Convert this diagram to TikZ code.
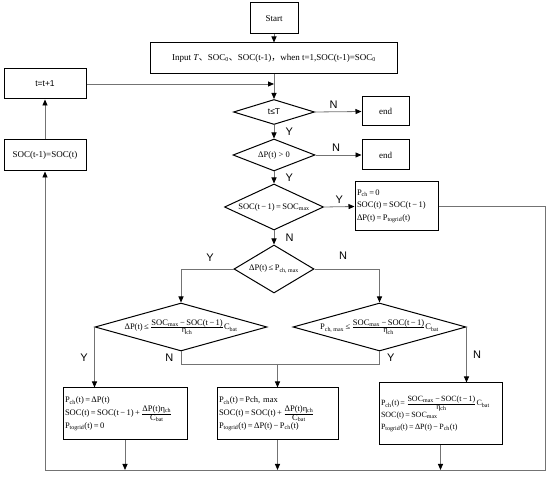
\documentclass[tikz,border=0pt]{standalone}
\usepackage{fontspec}
\setmainfont{Liberation Serif}
\newfontfamily\cjk{Noto Sans CJK SC}
\newfontfamily\arial{Liberation Sans}
\usetikzlibrary{shapes.geometric,arrows.meta}
\newcommand\sbs[1]{\textsubscript{#1}}
\newcommand\fr[2]{$\frac{\mbox{#1}}{\mbox{#2}}$}
\newcommand\mn{\,−\,}
\newcommand\eq{\,=\,}
\begin{document}
\begin{tikzpicture}[x=1pt,y=-1pt,
  font=\fontsize{9}{11}\selectfont,
  box/.style={draw=black, line width=1pt, inner sep=2pt},
  tbox/.style={box, align=left, text width=#1, font=\fontsize{8.5}{10.5}\selectfont},
  dia/.style={draw=black, diamond, line width=1pt, inner sep=0pt},
  dtext/.style={font=\fontsize{8.5}{10}\selectfont},
  conn/.style={draw=black!55, line width=0.8pt},
  arr/.style={conn, -{Triangle[width=5pt,length=6pt,color=black,fill=black]}},
  lab/.style={font=\arial\fontsize{11}{13}\selectfont, text=black}]
\useasboundingbox (0,0) rectangle (550,478);
% nodes
\node[box, minimum width=48pt, minimum height=31pt] (start) at (274,18.5) {Start};
\node[box, minimum width=247pt, minimum height=31pt] (inp) at (274,58.5)
  {Input \textit{T}{\cjk 、}SOC\sbs{0}{\cjk 、}SOC(t-1){\cjk ，}when t=1,SOC(t-1)=SOC\sbs{0}};
\node[box, minimum width=82pt, minimum height=30pt] (tt) at (45,84) {\arial\fontsize{8.5}{10}\selectfont t=t+1};
\node[box, minimum width=82pt, minimum height=31pt] (soc) at (45,155.5) {SOC(t-1)=SOC(t)};
\node[dia, minimum width=81pt, minimum height=25pt] (d1) at (274,112) {};
\node (d1t) at (d1) {\arial\fontsize{8.5}{10}\selectfont t≤T};
\node[box, minimum width=47pt, minimum height=29pt] (e1) at (385.5,111.5) {end};
\node[dia, minimum width=82pt, minimum height=32pt] (d2) at (274,155) {};
\node[dtext] (d2t) at (d2) {ΔP(t) > 0};
\node[box, minimum width=47pt, minimum height=30pt] (e2) at (385.5,155) {end};
\node[dia, minimum width=99pt, minimum height=46pt] (d3) at (274,207) {};
\node[dtext] (d3t) at (d3) {SOC(t\mn1)\eq SOC\sbs{max}};
\node[tbox=79pt, minimum height=49pt] (b0) at (396.5,206.5)
  {P\sbs{ch}\eq 0\\[2pt] SOC(t)\eq SOC(t\mn1)\\[2pt] ΔP(t)\eq P\sbs{togrid}(t)};
\node[dia, minimum width=80pt, minimum height=48pt] (d4) at (274,269) {};
\node[dtext] (d4t) at (d4) {ΔP(t)\,≤\,P\sbs{ch, max}};
\node[dia, minimum width=172pt, minimum height=48pt] (d5) at (181,327) {};
\node[dtext] (d5t) at (d5) {ΔP(t)\,≤\,\fr{SOC\sbs{max}\mn SOC(t\mn1)}{η\sbs{ch}}C\sbs{bat}};
\node[dia, minimum width=173pt, minimum height=48pt] (d6) at (379.5,327) {};
\node[dtext] (d6t) at (d6) {P\sbs{ch, max}\,≤\,\fr{SOC\sbs{max}\mn SOC(t\mn1)}{η\sbs{ch}}C\sbs{bat}};
\node[tbox=120pt, minimum height=52pt] (b7) at (125,414)
  {P\sbs{ch}(t)\eq ΔP(t)\\ SOC(t)\eq SOC(t\mn1)\,+\,\fr{ΔP(t)η\sbs{ch}}{C\sbs{bat}}\\ P\sbs{togrid}(t)\eq 0};
\node[tbox=117pt, minimum height=52pt] (b8) at (277.5,414)
  {P\sbs{ch}(t)\eq Pch, max\\ SOC(t)\eq SOC(t)\,+\,\fr{ΔP(t)η\sbs{ch}}{C\sbs{bat}}\\ P\sbs{togrid}(t)\eq ΔP(t)\mn P\sbs{ch}(t)};
\node[tbox=119pt, minimum height=62pt, font=\fontsize{8}{10}\selectfont] (b9) at (440.5,414)
  {P\sbs{ch}(t)\eq \fr{SOC\sbs{max}\mn SOC(t\mn1)}{η\sbs{ch}}C\sbs{bat}\\ SOC(t)\eq SOC\sbs{max}\\[2pt] P\sbs{togrid}(t)\eq ΔP(t)\mn P\sbs{ch}(t)};
% helper coordinates
\coordinate (j1) at (274,84);
\coordinate (br) at (545,470);
\coordinate (bl) at (soc.south |- br);
\coordinate (j5) at (181,364);
\coordinate (j6) at (379.5,364);
% connectors
\draw[arr] (start) -- (inp);
\draw[arr] (inp) -- (d1);
\draw[arr] (tt.east) -- (j1);
\draw[arr] (d1.east) -- node[lab, above, pos=0.4] {N} (e1.west);
\draw[arr] (d1.south) -- node[lab, right=8pt] {Y} (d2.north);
\draw[arr] (d2.east) -- node[lab, above, pos=0.45] {N} (e2.west);
\draw[arr] (d2.south) -- node[lab, right=8pt] {Y} (d3.north);
\draw[arr] (d3.east) -- node[lab, above] {Y} (b0.west);
\draw[arr] (d3.south) -- node[lab, right=8pt] {N} (d4.north);
\draw[arr] (d4.west) -| (d5.north);
\node[lab] (ly4) at (210,258) {Y};
\draw[arr] (d4.east) -| (d6.north);
\node[lab] (ln4) at (343,256) {N};
\draw[arr] (d5.west) -- node[lab, left=3pt] {Y} (d5.west |- b7.north);
\draw[conn] (d5.south) -- node[lab, left=4pt] {N} (j5) -- (j6) -- node[lab, right=4pt] {Y} (d6.south);
\draw[arr] (b8.north |- j5) -- (b8.north);
\draw[arr] (d6.east) -- node[lab, right=3pt] {N} (d6.east |- b9.north);
\draw[arr] (b0.east) -| (br) -- (bl) -- (soc.south);
\draw[arr] (soc.north) -- (tt.south);
\draw[arr] (b7.south) -- (b7.south |- br);
\draw[arr] (b8.south) -- (b8.south |- br);
\draw[arr] (b9.south) -- (b9.south |- br);
\end{tikzpicture}
\end{document}
